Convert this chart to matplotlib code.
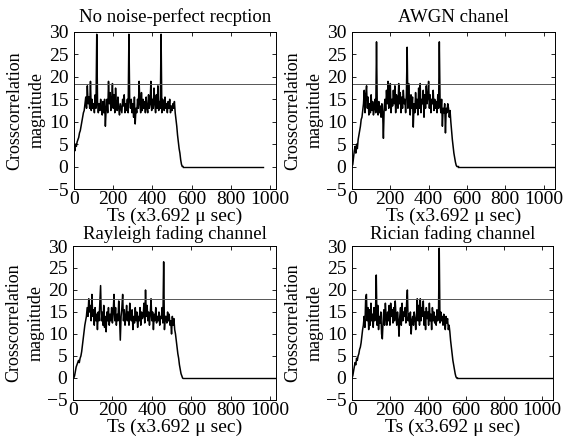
import numpy as np
import matplotlib
matplotlib.use("Agg")
import matplotlib.pyplot as plt

plt.rcParams['font.family'] = ['Liberation Serif', 'DejaVu Serif']
plt.rcParams['font.size'] = 14

titles = ["No noise-perfect recption", "AWGN chanel",
          "Rayleigh fading channel", "Rician fading channel"]

step = 4  # sample spacing of the values below (Ts units)

# crosscorrelation magnitude, one row = 40 Ts
no_noise = [
    4.5, 3.5, 5, 4.5, 5.5, 6, 6.5, 7.5, 8, 9,
    10, 11, 12, 12.5, 14, 15.5, 13, 18, 14, 15.5,
    13, 19, 12.5, 15, 13, 14, 12, 16, 13, 29.5,
    14.5, 12, 14, 12.5, 15, 13, 11.5, 14.5, 12, 15,
    9, 13, 15, 12, 19, 14, 16.5, 12.5, 15, 18.5,
    13, 16, 12, 17.5, 14, 12.5, 15.5, 13, 11.5, 14,
    13, 12, 15, 13.5, 16, 12, 14, 12.5, 15, 12,
    29.5, 14.5, 13, 15, 12, 14, 11, 15.5, 9.5, 13,
    12, 15, 13, 19, 14, 12, 16.5, 12.5, 15, 13,
    14.5, 12, 15.5, 13, 12, 16, 13, 14, 19, 12.5,
    15, 13, 17.5, 14, 12, 16, 13, 18, 12.5, 14.5,
    13, 29.5, 12, 15, 14, 12.5, 15.5, 13, 14, 12,
    14.5, 13, 15, 12, 13.5, 12.5, 14, 13, 14.5, 12,
    10.5, 9, 7, 5.5, 4, 3, 1.5, 0.5, 0, 0,
]
awgn = [
    0, 0.5, 2, 3.5, 4.5, 3, 5, 4, 6, 7,
    8, 9, 10.5, 11, 12.5, 14, 17, 12, 16, 18,
    13, 15.5, 11.5, 14, 12, 16, 12.5, 14.5, 11.5, 13,
    15, 12, 27.8, 13, 11.5, 14.5, 12, 13.5, 11, 14,
    12, 6.3, 13, 15, 12.5, 17, 14, 19, 13, 16,
    18.5, 12, 15, 13.5, 17, 14, 18, 12, 16, 15,
    13, 18.5, 14, 16.5, 12, 15.5, 13, 17, 14, 15,
    12, 16, 26.6, 13, 18.5, 14, 11.5, 16, 13, 15.5,
    8.8, 14, 12, 16.5, 13, 15, 11.5, 17.5, 13, 18.5,
    12, 15, 14, 17, 11, 16, 13, 18, 14, 15.5,
    19, 13, 16, 12, 15, 14, 17, 12.5, 15, 13,
    14.5, 12, 16, 13, 27.8, 14, 12, 15, 9, 13,
    12, 14, 7.5, 13, 12, 14, 13, 11, 12.5, 10,
    8, 6, 4.5, 3, 2, 1, 0.3, 0, 0, 0,
]
rayleigh = [
    0, 0, 0.5, 1.5, 2.5, 3, 3.5, 4, 3.5, 4.5,
    5, 6, 7.5, 9, 10.5, 12, 13, 14, 16, 14,
    18, 15, 16.5, 13, 19, 14, 15.5, 12, 16, 13,
    14.5, 11, 15, 13, 17, 21, 13, 15, 12, 16.5,
    11.5, 14, 10.5, 15, 13, 16, 12, 14.5, 13, 16,
    12.5, 15, 19, 13, 16, 12, 14.5, 13, 17.5, 14,
    8.6, 14, 16, 19, 13, 15.5, 12, 14, 16.5, 13,
    15, 12, 17, 14, 13, 15.5, 11, 14, 12.5, 16,
    13, 15, 11.5, 14, 13, 16, 12, 15, 13.5, 14,
    17, 12.5, 20, 14, 16.5, 13, 15, 12, 14.5, 18,
    13, 15, 11, 14.5, 13, 16, 12.5, 14, 13, 15,
    12, 14, 13.5, 16, 12.5, 26.4, 11, 14, 14, 12.5,
    15, 13, 14.5, 12, 13, 10, 14, 12, 13.5, 11,
    10, 8.5, 7, 5.5, 4.5, 3, 2, 1, 0.5, 0,
]
rician = [
    0, 0.5, 1.5, 2.5, 3.5, 3, 4.5, 4, 5, 5.5,
    6.5, 7, 8, 9.5, 11, 12, 14, 11.5, 18, 19,
    13, 16, 11, 15.5, 12, 17, 13, 14.5, 11.5, 16,
    13, 15, 23.4, 12, 16.5, 11, 14, 12.5, 15, 10,
    8.9, 13, 15.5, 12, 17, 14, 12, 15, 13, 16.5,
    12, 17, 14, 15.5, 12.5, 16, 13, 17.5, 14, 12,
    15, 13, 9.5, 14, 16, 12, 17, 13, 15, 14,
    16, 12.5, 17, 20, 13, 14.5, 12, 15, 10, 13,
    14, 12, 15, 13.5, 11, 14, 18, 13, 16.5, 12,
    18, 13, 16, 14, 17.5, 12, 15, 11, 16, 13.5,
    15, 12, 17, 13, 14.5, 11, 16, 13, 15, 12.5,
    14, 12, 15.5, 13, 14, 29.5, 12.5, 15, 13, 14,
    12, 14.5, 13, 11, 14, 12.5, 13.5, 11, 12, 10.5,
    8.5, 7, 5.5, 4, 3, 2, 1, 0.3, 0, 0,
]
series = [no_noise, awgn, rayleigh, rician]
x_max = [1030, 1060, 1030, 1060]
tail_end = [965, 1060, 1030, 1060]   # where the zero line stops
threshold = [18.4, 18.3, 18, 18]

# axes boxes in pixels: left, top, right, bottom
W, H = 567, 443
boxes = [(74, 32, 276, 189), (352, 32, 555, 189),
         (73, 246, 276, 400), (352, 246, 553, 400)]

fig = plt.figure(figsize=(W / 100, H / 100), dpi=100)
for i in range(4):
    l, t, r, b = boxes[i]
    ax = fig.add_axes([l / W, 1 - b / H, (r - l) / W, (b - t) / H])
    y = np.array(series[i])
    x = np.arange(len(y)) * step
    ax.plot(x, y, color='black', lw=1.1)
    ax.plot([x[-1], tail_end[i]], [0, 0], color='black', lw=1.0)
    ax.axhline(threshold[i], color='#555555', lw=0.7)
    ax.set_xlim(0, x_max[i])
    ax.set_ylim(-5, 30)
    ax.set_xticks([0, 200, 400, 600, 800, 1000])
    ax.set_yticks([-5, 0, 5, 10, 15, 20, 25, 30])
    ax.tick_params(direction='in', top=True, right=True, length=3, width=0.6)
    ax.tick_params(axis='x', pad=1.5)
    ax.tick_params(axis='y', pad=4)
    for s in ax.spines.values():
        s.set_linewidth(0.7)
    ax.set_title(titles[i], pad=7 if i < 2 else 5, fontsize=13.5)
    ax.set_xlabel("Ts (x3.692 \u03bc sec)", labelpad=0, fontsize=14)
    ax.set_ylabel("Crosscorrelation\nmagnitude", fontsize=13, linespacing=1.4)
    ax.yaxis.set_label_coords(-0.14, 0.5)

fig.savefig("out.png", dpi=100)
